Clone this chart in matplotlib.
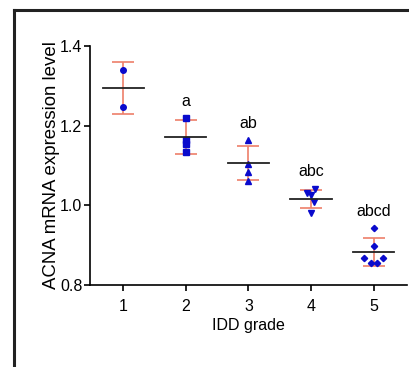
import numpy as np
import matplotlib.pyplot as plt
from matplotlib.lines import Line2D

plt.rcParams["font.family"] = ["Liberation Sans", "DejaVu Sans"]

grades = [1, 2, 3, 4, 5]
g1 = [1.340, 1.247]
g2 = [1.218, 1.163, 1.155, 1.133]
g3 = [1.164, 1.105, 1.084, 1.061]
g4 = [1.042, 1.031, 1.025, 1.009, 0.982]
g5 = [0.943, 0.898, 0.868, 0.868, 0.854, 0.854]
groups = [g1, g2, g3, g4, g5]
jitter = [
    [0, 0],
    [0, 0, 0, 0],
    [0, 0, 0, 0],
    [0.06, -0.07, 0.0, 0.04, 0.0],
    [0, 0, -0.15, 0.15, -0.05, 0.05],
]
markers = ["o", "s", "^", "v", "D"]
letters = ["", "a", "ab", "abc", "abcd"]

means = [1.294, 1.171, 1.106, 1.016, 0.882]
sds = [0.065, 0.043, 0.043, 0.023, 0.035]

fig = plt.figure(figsize=(4.09, 3.67), dpi=100)
ax = fig.add_axes([0.22, 0.2234, 0.775, 0.6513])

blue = "#0A0ACC"
red = "#EE7F6A"
for i, g in enumerate(grades):
    xs = [g + d for d in jitter[i]]
    ms = 4.0 if markers[i] != "D" else 3.2
    ax.plot(xs, groups[i], linestyle="none", marker=markers[i], color=blue,
            markersize=ms, zorder=3)
    ax.errorbar(g, means[i], yerr=sds[i], fmt="none", ecolor=red,
                elinewidth=1.2, capsize=8, capthick=1.2, zorder=2)
    ax.plot([g - 0.33, g + 0.33], [means[i], means[i]], color="#222222",
            lw=1.3, zorder=4)
    if letters[i]:
        ax.text(g, max(groups[i]) + 0.042, letters[i], ha="center",
                va="center", fontsize=11.5)

ax.set_xlim(0.47, 5.53)
ax.set_ylim(0.8, 1.4)
ax.set_xticks(grades)
ax.set_yticks([0.8, 1.0, 1.2, 1.4])
ax.set_yticklabels(["0.8", "1.0", "1.2", "1.4"])
ax.tick_params(labelsize=11.5, length=4, width=1.2, direction="out")
ax.tick_params(axis="y", pad=1.5)
ax.tick_params(axis="x", pad=6)
ax.spines["top"].set_visible(False)
ax.spines["right"].set_visible(False)
ax.spines["left"].set_linewidth(1.2)
ax.spines["bottom"].set_linewidth(1.2)
ax.set_xlabel("IDD grade", fontsize=11.5, labelpad=3)
ax.set_ylabel("ACNA mRNA expression level", fontsize=13.4, labelpad=0)

# outer black frame
fig.add_artist(Line2D([14 / 409, 14 / 409], [0, 1 - 10 / 367], color="#222222",
                      lw=2.2, transform=fig.transFigure))
fig.add_artist(Line2D([14 / 409, 1], [1 - 10 / 367, 1 - 10 / 367], color="#222222",
                      lw=2.2, transform=fig.transFigure))

fig.savefig("out.png", dpi=100)
